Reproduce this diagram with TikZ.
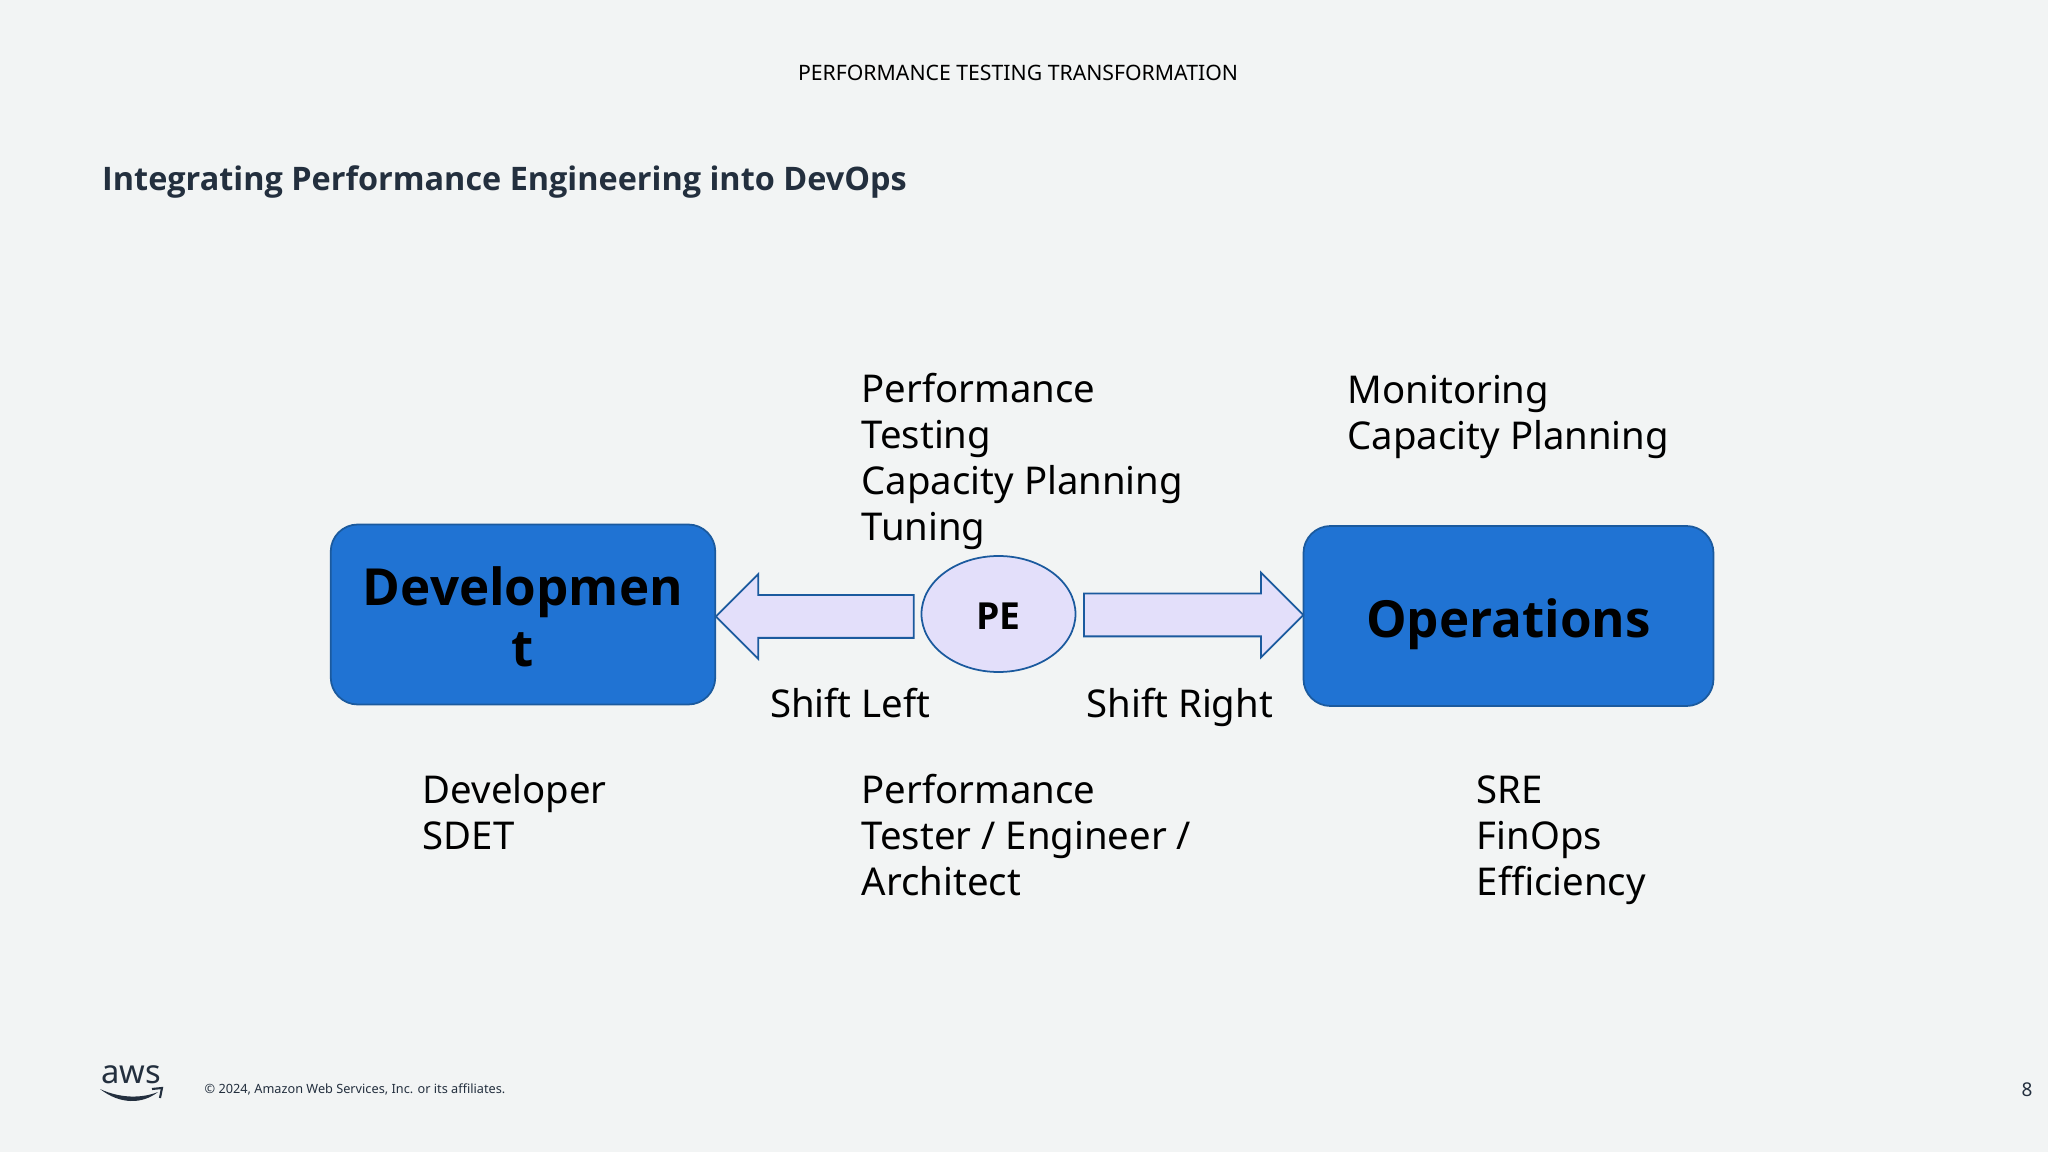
\documentclass[tikz,border=0pt]{standalone}
\usepackage{fontspec}
\setmainfont{Noto Sans}
\newfontfamily\headsans{Open Sans}
\usetikzlibrary{shapes.geometric}
\usetikzlibrary{shapes.arrows}
\definecolor{pagebg}{HTML}{F2F4F4}
\definecolor{boxblue}{HTML}{2073D3}
\definecolor{edgeblue}{HTML}{1B5A9E}
\definecolor{arrowfill}{HTML}{E3DFFA}
\definecolor{inkdark}{HTML}{232F3E}
\tikzset{
    bluebox/.style={draw=edgeblue,fill=boxblue,line width=0.5pt,rounded corners=0.27cm,inner sep=0pt},
    boxlabel/.style={inner sep=0pt,align=center,font=\headsans\fontsize{14.55}{17.4}\selectfont\bfseries},
    shiftarrow/.style={single arrow,draw=edgeblue,fill=arrowfill,line width=0.5pt,inner xsep=0pt,inner ysep=0.205cm,single arrow head extend=0.21cm},
    bodytext/.style={anchor=north west,inner sep=0pt,align=left,font=\fontsize{10.9}{13.1}\selectfont},
}
\begin{document}
\begin{tikzpicture}
            \useasboundingbox[fill=pagebg] (0,0) rectangle (20.48,-11.52);

            \node[anchor=center,inner sep=0pt,font=\fontsize{6.04}{7.5}\selectfont] (header) at (10.18,-0.73){PERFORMANCE TESTING TRANSFORMATION};
            \node[anchor=west,inner sep=0pt,text=inkdark,font=\headsans\fontsize{9.22}{11}\selectfont\bfseries] (title) at (1.015,-1.82){Integrating Performance Engineering into DevOps};

            \node[bluebox,minimum width=3.845cm,minimum height=1.8cm,label={[boxlabel,yshift=-0.026cm]center:{Developmen\\t}}] (dev) at (5.23,-6.145){};
            \node[bluebox,minimum width=4.1cm,minimum height=1.8cm,label={[boxlabel,yshift=-0.08cm]center:{Operations}}] (ops) at (15.085,-6.16){};
            \node[ellipse,draw=edgeblue,fill=arrowfill,line width=0.5pt,inner sep=0pt,minimum width=1.54cm,minimum height=1.16cm,label={[inner sep=0pt,font=\headsans\fontsize{10.6}{12}\selectfont\bfseries,yshift=-0.026cm]center:{PE}}] (pe) at (9.985,-6.14){};

            \node[shiftarrow,minimum height=1.98cm,shape border rotate=180] (shiftleft) at (8.255,-6.165){};
            \node[shiftarrow,minimum height=2.195cm] (shiftright) at (11.83,-6.15){};

            \node[bodytext] (shiftlefttext) at (7.695,-6.87){Shift Left};
            \node[bodytext] (shiftrighttext) at (10.86,-6.87){Shift Right};

            \node[bodytext] (petasks) at (8.61,-3.725){Performance\\Testing\\Capacity Planning\\Tuning};
            \node[bodytext] (opstasks) at (13.47,-3.745){Monitoring\\Capacity Planning};
            \node[bodytext] (devroles) at (4.22,-7.735){Developer\\SDET};
            \node[bodytext] (peroles) at (8.61,-7.73){Performance\\Tester / Engineer /\\Architect};
            \node[bodytext] (opsroles) at (14.76,-7.75){SRE\\FinOps\\Efficiency};

            \node[anchor=base,inner sep=0pt,text=inkdark,font=\fontsize{9.3}{10}\selectfont] (awslogo) at (1.31,-10.83){aws};
            \fill[inkdark] (1.0,-10.89) .. controls (1.2,-11.045) and (1.42,-11.045) .. (1.58,-10.92) .. controls (1.42,-10.985) and (1.2,-10.985) .. (1.0,-10.89);
            \draw[inkdark,line width=0.6pt] (1.52,-10.89) -- (1.62,-10.88) -- (1.6,-10.98);

            \node[anchor=west,inner sep=0pt,text=inkdark,font=\fontsize{3.62}{5}\selectfont] (copyright) at (2.04,-10.89){© 2024, Amazon Web Services, Inc. or its affiliates.};
            \node[inner sep=0pt,text=inkdark,font=\fontsize{5.4}{6}\selectfont] (pagenum) at (20.27,-10.90){8};
\end{tikzpicture}
\end{document}
